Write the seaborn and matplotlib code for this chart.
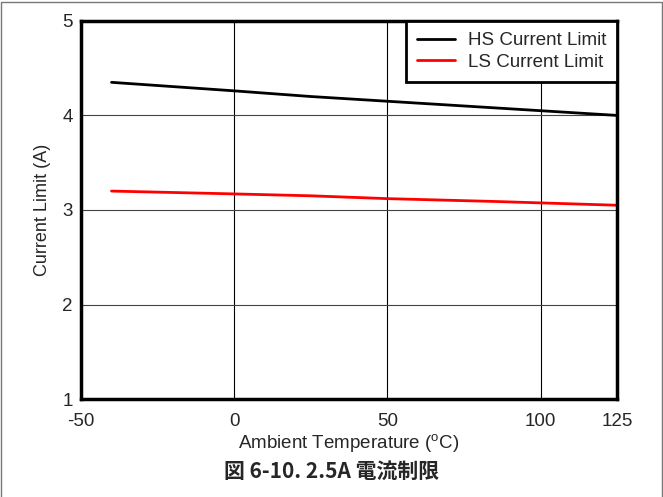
import matplotlib
matplotlib.use("Agg")
import matplotlib.pyplot as plt
import seaborn as sns
import pandas as pd
from matplotlib.patches import Rectangle

temps = [-40, 0, 25, 50, 85, 125]
hs_limit = [4.35, 4.26, 4.20, 4.15, 4.08, 4.00]
ls_limit = [3.20, 3.17, 3.15, 3.12, 3.09, 3.05]
x_ticks = [-50, 0, 50, 100, 125]
y_ticks = [1, 2, 3, 4, 5]

sns.set_style("white")
plt.rcParams["font.family"] = ["Liberation Sans", "DejaVu Sans"]
plt.rcParams["axes.unicode_minus"] = False

df = pd.DataFrame({
    "Temperature": temps * 2,
    "Current": hs_limit + ls_limit,
    "Series": ["HS Current Limit"] * len(temps) + ["LS Current Limit"] * len(temps),
})

fig = plt.figure(figsize=(6.63, 4.97), dpi=100)
ax = fig.add_axes([0.122, 0.197, 0.809, 0.761])

sns.lineplot(data=df, x="Temperature", y="Current", hue="Series",
             palette={"HS Current Limit": "black", "LS Current Limit": "#ff0000"},
             linewidth=2, ax=ax)

ax.set_xlim(-50, 125)
ax.set_ylim(1, 5)
ax.set_xticks(x_ticks)
ax.set_yticks(y_ticks)
ax.tick_params(axis="x", labelsize=13.5, length=0, pad=10)
ax.tick_params(axis="y", labelsize=13.5, length=0, pad=6)
for x in [0, 50, 100]:
    ax.axvline(x, color="black", linewidth=0.8, zorder=0)
for y in [2, 3, 4]:
    ax.axhline(y, color="#444444", linewidth=0.8, zorder=0)
for s in ax.spines.values():
    s.set_linewidth(2.5)
    s.set_color("black")
    s.set_visible(True)

ax.set_xlabel("Ambient Temperature ($^{\\mathregular{o}}$C)", fontsize=13.5, labelpad=2)
ax.set_ylabel("Current Limit (A)", fontsize=13, labelpad=8)

leg = ax.legend(loc="upper right", fontsize=13.5, frameon=True, fancybox=False,
                borderaxespad=0, handlelength=2.0, handletextpad=0.7,
                labelspacing=0.25, borderpad=0.6)
leg.get_frame().set_edgecolor("black")
leg.get_frame().set_linewidth(2)
leg.get_frame().set_alpha(1)
leg.set_title(None)

fig.text(0.5, 0.052, "図 6-10. 2.5A 電流制限", ha="center", va="center",
         fontsize=15, fontweight="bold",
         family=["Noto Sans CJK JP", "DejaVu Sans"])

fig.patches.append(Rectangle((0.002, -0.01), 0.996, 1.006, transform=fig.transFigure,
                             fill=False, edgecolor="#777777", linewidth=1))

fig.savefig("out.png", dpi=100)
